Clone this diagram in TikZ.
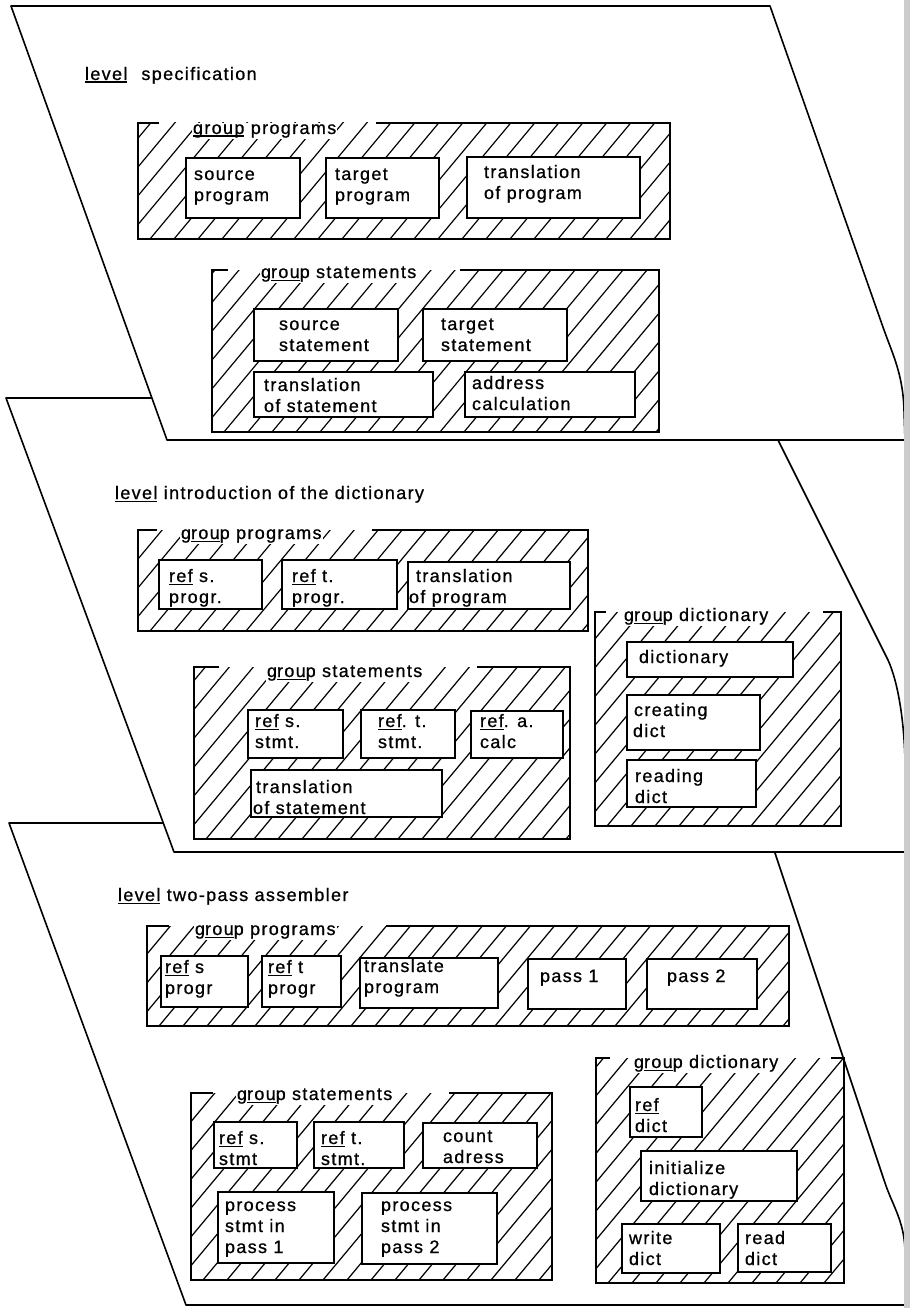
\documentclass[tikz,border=0pt]{standalone}
\usepackage{fontspec}
\setmainfont{Liberation Sans}[LetterSpace=7.5,FakeBold=0.8]
\usetikzlibrary{calc}

% underline drawn as a rule of fixed weight below the baseline
\newsavebox\ulbox
\newcommand{\ulx}[1]{\sbox\ulbox{#1}\rlap{\rule[-2.8pt]{\wd\ulbox}{1.3pt}}\usebox\ulbox}

% hatched area of a group: name, x1, y1, x2, y2
\newcommand{\hatcharea}[5]{%
  \coordinate (#1) at (#2,#3);
  \begin{scope}
    \clip (#2,#3) rectangle (#4,#5);
    \foreach \k in {0,...,42}{\draw[hatchline] ({#2-300+24*\k},#5) -- ++(300,-360);}
  \end{scope}}
% frame of a group, top edge broken around the label: x1, y1, x2, y2, left piece end, right piece start
\newcommand{\groupframe}[6]{%
  \draw[frameline] (#5,#2) -- (#1,#2) -- (#1,#4) -- (#3,#4) -- (#3,#2) -- (#6,#2);}

\begin{document}
\begin{tikzpicture}[x=1pt,y=-1pt,
  every node/.style={font=\fontsize{18pt}{21pt}\selectfont, inner sep=0pt, outer sep=0pt},
  sheet/.style={draw=black, line width=1.6pt, fill=white, line join=round},
  hatchline/.style={line width=1.2pt},
  frameline/.style={line width=2.8pt, line join=miter},
  box/.style={draw, line width=2.2pt, fill=white, anchor=north west},
  txt/.style={anchor=base west, align=left},
  grouplabel/.style={anchor=base west, fill=white, inner xsep=1pt, inner ysep=1.5pt}]

\useasboundingbox (0,0) rectangle (910,1308);
\fill[white] (0,0) rectangle (910,1308);

% ---- the three level sheets, back to front ----
\draw[sheet] (9,823) -- (765,823) -- (884,1180) .. controls (892,1205) and (904,1220) .. (905,1250) -- (906,1305) -- (186,1305) -- cycle;
\draw[sheet] (6,398) -- (757,398) -- (888,660) .. controls (898,682) and (904,720) .. (905,760) -- (906,852) -- (174,852) -- cycle;
\draw[sheet] (11,6) -- (770,6) -- (884,330) .. controls (893,355) and (903,375) .. (904,410) -- (905,440) -- (167,440) -- cycle;

% ================= level specification =================
\node[txt] (lv1) at (85,80) {\ulx{level}\hspace*{14pt}specification};

% group programs
\hatcharea{g11}{138}{123}{670}{239}
\node[grouplabel] (g11l) at (192,134) {\ulx{group} programs};
\node[box, minimum width=114, minimum height=60] (b11) at (186,158) {};
\node[txt] (b11t) at (194,201) {source\\program};
\node[box, minimum width=113, minimum height=60] (b12) at (326,158) {};
\node[txt] (b12t) at (335,201) {target\\program};
\node[box, minimum width=173, minimum height=61] (b13) at (467,157) {};
\node[txt] (b13t) at (484,199) {translation\\of program};
\groupframe{138}{123}{670}{239}{159}{376}

% group statements
\hatcharea{g12}{212}{270}{659}{432}
\node[grouplabel] (g12l) at (260,278) {g\ulx{rou}p statements};
\node[box, minimum width=144, minimum height=52] (b14) at (254,309) {};
\node[txt] (b14t) at (279,351) {source\\statement};
\node[box, minimum width=144, minimum height=52] (b15) at (423,309) {};
\node[txt] (b15t) at (441,351) {target\\statement};
\node[box, minimum width=179, minimum height=45] (b16) at (254,372) {};
\node[txt] (b16t) at (264,412) {translation\\of statement};
\node[box, minimum width=170, minimum height=45] (b17) at (465,372) {};
\node[txt] (b17t) at (472,410) {address\\calculation};
\groupframe{212}{270}{659}{432}{228}{460}

% ================= level introduction of the dictionary =================
\node[txt] (lv2) at (115,499) {\ulx{level} introduction of the dictionary};

% group programs
\hatcharea{g21}{138}{530}{588}{631}
\node[grouplabel] (g21l) at (180,539) {g\ulx{rou}p programs};
\node[box, minimum width=103, minimum height=49] (b21) at (159,560) {};
\node[txt] (b21t) at (169,603) {\ulx{ref} s.\\progr.};
\node[box, minimum width=115, minimum height=49] (b22) at (282,560) {};
\node[txt] (b22t) at (292,603) {\ulx{ref} t.\\progr.};
\node[box, minimum width=162, minimum height=47] (b23) at (408,562) {};
\node[txt] (b23t) at (409,603) {\hspace*{7pt}translation\\of program};
\groupframe{138}{530}{588}{631}{157}{372}

% group statements
\hatcharea{g22}{194}{667}{570}{839}
\node[grouplabel] (g22l) at (266,677) {g\ulx{rou}p statements};
\node[box, minimum width=95, minimum height=48] (b24) at (248,710) {};
\node[txt] (b24t) at (255,748) {\ulx{ref} s.\\stmt.};
\node[box, minimum width=94, minimum height=48] (b25) at (361,710) {};
\node[txt] (b25t) at (378,748) {\ulx{ref}. t.\\stmt.};
\node[box, minimum width=92, minimum height=47] (b26) at (471,711) {};
\node[txt] (b26t) at (480,748) {\ulx{ref}. a.\\calc};
\node[box, minimum width=191, minimum height=47] (b27) at (251,770) {};
\node[txt] (b27t) at (253,814) {\hspace*{3pt}translation\\of statement};
\groupframe{194}{667}{570}{839}{219}{477}

% group dictionary
\hatcharea{g23}{595}{612}{841}{826}
\node[grouplabel] (g23l) at (623,621) {g\ulx{rou}p dictionary};
\node[box, minimum width=166, minimum height=35] (b28) at (627,642) {};
\node[txt] (b28t) at (639,663) {dictionary};
\node[box, minimum width=133, minimum height=55] (b29) at (627,695) {};
\node[txt] (b29t) at (633,737) {\hspace*{1pt}creating\\dict};
\node[box, minimum width=129, minimum height=47] (b2a) at (627,760) {};
\node[txt] (b2at) at (635,803) {reading\\dict};
\groupframe{595}{612}{841}{826}{606}{823}

% ================= level two-pass assembler =================
\node[txt] (lv3) at (118,901) {\ulx{level} two-pass assembler};

% group programs
\hatcharea{g31}{147}{926}{789}{1026}
\node[grouplabel] (g31l) at (194,935) {g\ulx{rou}p programs};
\node[box, minimum width=87, minimum height=51] (b31) at (161,956) {};
\node[txt] (b31t) at (165,994) {\ulx{ref} s\\progr};
\node[box, minimum width=79, minimum height=51] (b32) at (262,956) {};
\node[txt] (b32t) at (268,994) {\ulx{ref} t\\progr};
\node[box, minimum width=138, minimum height=50] (b33) at (360,958) {};
\node[txt] (b33t) at (364,993) {translate\\program};
\node[box, minimum width=98, minimum height=50] (b34) at (528,959) {};
\node[txt] (b34t) at (540,982) {pass 1};
\node[box, minimum width=110, minimum height=50] (b35) at (647,959) {};
\node[txt] (b35t) at (667,982) {pass 2};
\groupframe{147}{926}{789}{1026}{169}{386}

% group statements
\hatcharea{g32}{191}{1093}{552}{1280}
\node[grouplabel] (g32l) at (236,1100) {g\ulx{rou}p statements};
\node[box, minimum width=83, minimum height=46] (b36) at (214,1122) {};
\node[txt] (b36t) at (219,1165) {\ulx{ref} s.\\stmt};
\node[box, minimum width=90, minimum height=46] (b37) at (314,1122) {};
\node[txt] (b37t) at (321,1165) {\ulx{ref} t.\\stmt.};
\node[box, minimum width=114, minimum height=45] (b38) at (423,1123) {};
\node[txt] (b38t) at (443,1163) {count\\adress};
\node[box, minimum width=116, minimum height=71] (b39) at (218,1192) {};
\node[txt] (b39t) at (225,1253) {process\\stmt in\\pass 1};
\node[box, minimum width=135, minimum height=71] (b3a) at (362,1193) {};
\node[txt] (b3at) at (381,1253) {process\\stmt in\\pass 2};
\groupframe{191}{1093}{552}{1280}{213}{449}

% group dictionary
\hatcharea{g33}{596}{1058}{844}{1283}
\node[grouplabel] (g33l) at (633,1068) {g\ulx{rou}p dictionary};
\node[box, minimum width=72, minimum height=50] (b3b) at (630,1087) {};
\node[txt] (b3bt) at (635,1132) {\ulx{ref}\\dict};
\node[box, minimum width=156, minimum height=50] (b3c) at (641,1151) {};
\node[txt] (b3ct) at (649,1195) {initialize\\dictionary};
\node[box, minimum width=98, minimum height=49] (b3d) at (622,1224) {};
\node[txt] (b3dt) at (629,1265) {write\\dict};
\node[box, minimum width=93, minimum height=48] (b3e) at (738,1224) {};
\node[txt] (b3et) at (745,1265) {read\\dict};
\groupframe{596}{1058}{844}{1283}{610}{831}

% grey page edge
\fill[black!20] (904,0) rectangle (910,1308);
\end{tikzpicture}
\end{document}
